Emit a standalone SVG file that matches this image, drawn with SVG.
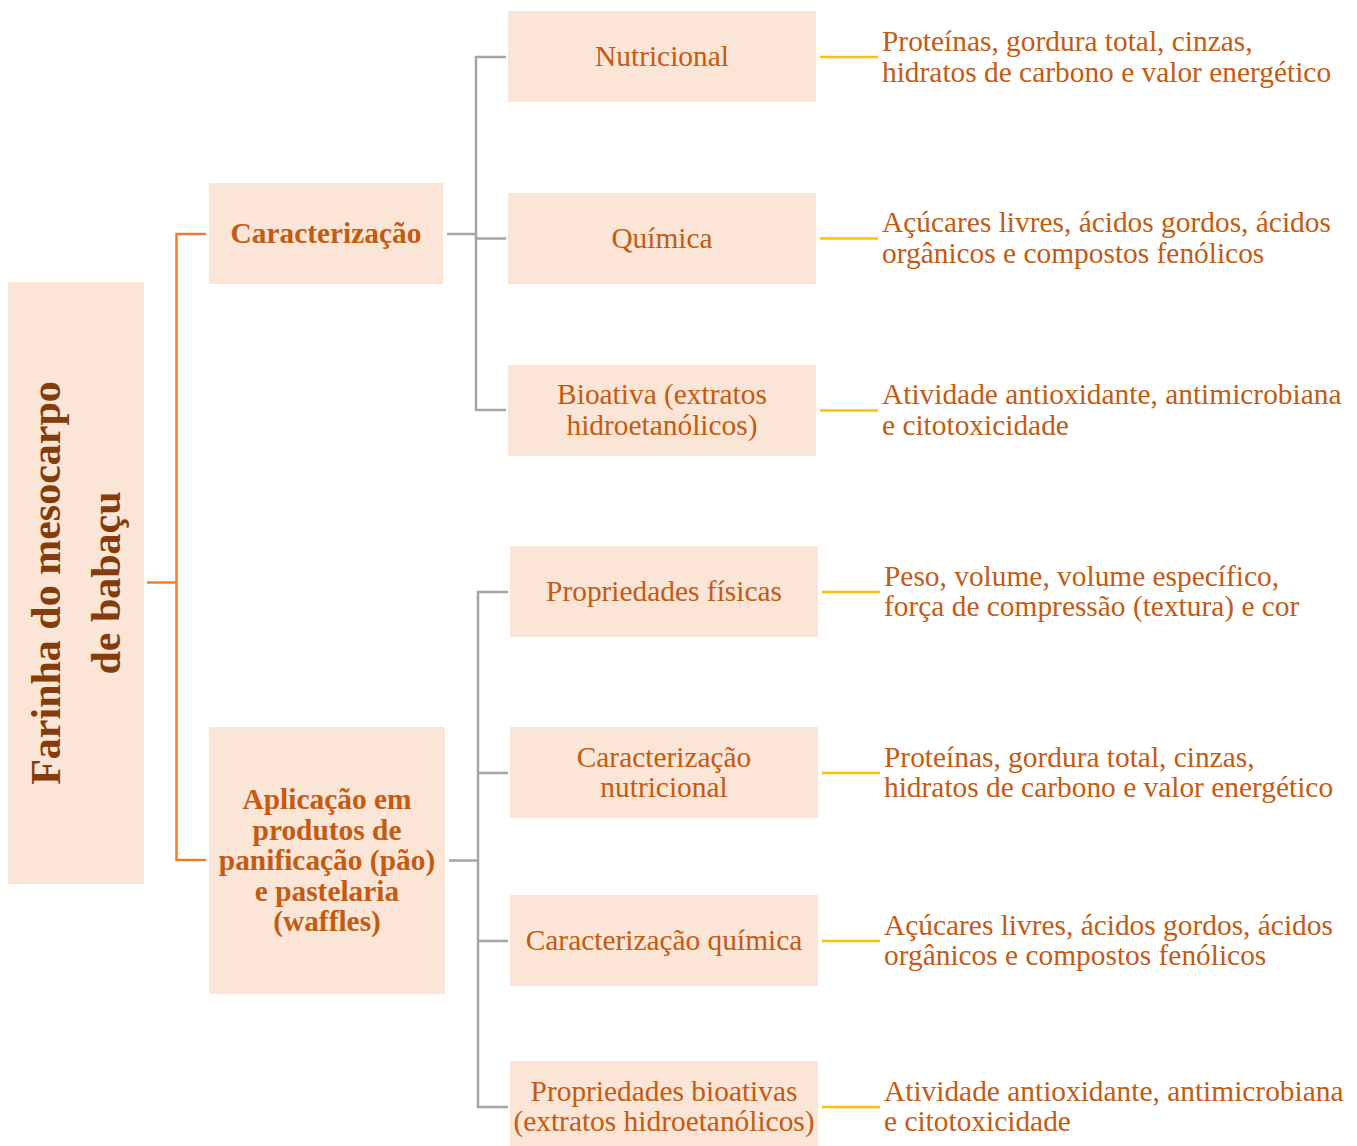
<svg xmlns="http://www.w3.org/2000/svg" width="1357" height="1146" viewBox="0 0 1357 1146">
<style>
.box{fill:#FBE5D6;}
.t{font-family:"Liberation Serif","Times New Roman",serif;font-size:29.4px;fill:#C55A11;}
.c{text-anchor:middle;}
.b{font-weight:bold;}
.root{font-family:"Liberation Serif","Times New Roman",serif;font-size:42px;font-weight:bold;fill:#843C0B;text-anchor:middle;}
.or{stroke:#ED7D31;stroke-width:2.5;fill:none;}
.gr{stroke:#A5A5A5;stroke-width:2.5;fill:none;}
.ye{stroke:#FFC000;stroke-width:2.5;fill:none;}
</style>
<rect width="1357" height="1146" fill="#FFFFFF"/>
<g id="connectors">
<path class="or" d="M147,582.5 H176.5 M206,234 H176.5 V860 H206"/>
<path class="gr" d="M447,234 H476 M506,57 H476 V410 H506 M476,238.5 H506"/>
<path class="gr" d="M449,860.5 H478 M508,592 H478 V1107 H508 M478,773 H508 M478,941 H508"/>
<path class="ye" d="M820,57 H878 M820,238.5 H878 M820,410.5 H878"/>
<path class="ye" d="M822,592 H880 M822,773 H880 M822,941 H880 M822,1107 H880"/>
</g>
<g id="root">
<rect class="box" x="8" y="282" width="136" height="602"/>
<text class="root" transform="translate(60,583) rotate(-90)">Farinha do mesocarpo</text>
<text class="root" transform="translate(120,583) rotate(-90)">de babaçu</text>
</g>
<g id="caracterizacao">
<rect class="box" x="209" y="183" width="234" height="101"/>
<text class="t c b" x="326" y="243">Caracterização</text>
</g>
<g id="aplicacao">
<rect class="box" x="209" y="727" width="236" height="267"/>
<text class="t c b" x="327" y="809">Aplicação em</text>
<text class="t c b" x="327" y="839.5">produtos de</text>
<text class="t c b" x="327" y="870">panificação (pão)</text>
<text class="t c b" x="327" y="900.5">e pastelaria</text>
<text class="t c b" x="327" y="931">(waffles)</text>
</g>
<g id="nutricional">
<rect class="box" x="508" y="11" width="308" height="91"/>
<text class="t c" x="662" y="66">Nutricional</text>
</g>
<g id="quimica">
<rect class="box" x="508" y="193" width="308" height="91"/>
<text class="t c" x="662" y="248">Química</text>
</g>
<g id="bioativa">
<rect class="box" x="508" y="365" width="308" height="91"/>
<text class="t c" x="662" y="404">Bioativa (extratos</text>
<text class="t c" x="662" y="435">hidroetanólicos)</text>
</g>
<g id="prop-fisicas">
<rect class="box" x="510" y="546" width="308" height="91"/>
<text class="t c" x="664" y="601">Propriedades físicas</text>
</g>
<g id="carac-nutricional">
<rect class="box" x="510" y="727" width="308" height="91"/>
<text class="t c" x="664" y="767">Caracterização</text>
<text class="t c" x="664" y="797">nutricional</text>
</g>
<g id="carac-quimica">
<rect class="box" x="510" y="895" width="308" height="91"/>
<text class="t c" x="664" y="950">Caracterização química</text>
</g>
<g id="prop-bioativas">
<rect class="box" x="510" y="1061" width="308" height="91"/>
<text class="t c" x="664" y="1101">Propriedades bioativas</text>
<text class="t c" x="664" y="1131">(extratos hidroetanólicos)</text>
</g>
<g id="desc-nutricional">
<text class="t" x="882" y="50.5">Proteínas, gordura total, cinzas,</text>
<text class="t" x="882" y="81.5">hidratos de carbono e valor energético</text>
</g>
<g id="desc-quimica">
<text class="t" x="882" y="232">Açúcares livres, ácidos gordos, ácidos</text>
<text class="t" x="882" y="263">orgânicos e compostos fenólicos</text>
</g>
<g id="desc-bioativa">
<text class="t" x="882" y="404">Atividade antioxidante, antimicrobiana</text>
<text class="t" x="882" y="435">e citotoxicidade</text>
</g>
<g id="desc-fisicas">
<text class="t" x="884" y="586">Peso, volume, volume específico,</text>
<text class="t" x="884" y="616">força de compressão (textura) e cor</text>
</g>
<g id="desc-carac-nutricional">
<text class="t" x="884" y="767">Proteínas, gordura total, cinzas,</text>
<text class="t" x="884" y="797">hidratos de carbono e valor energético</text>
</g>
<g id="desc-carac-quimica">
<text class="t" x="884" y="935">Açúcares livres, ácidos gordos, ácidos</text>
<text class="t" x="884" y="965">orgânicos e compostos fenólicos</text>
</g>
<g id="desc-bioativas">
<text class="t" x="884" y="1101">Atividade antioxidante, antimicrobiana</text>
<text class="t" x="884" y="1131">e citotoxicidade</text>
</g>
</svg>
